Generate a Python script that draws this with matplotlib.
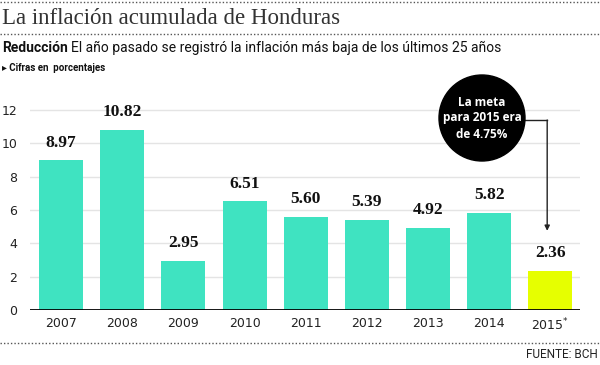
import matplotlib
matplotlib.use("Agg")
import matplotlib.pyplot as plt
from matplotlib.patches import Ellipse
from matplotlib.lines import Line2D

years = ["2007", "2008", "2009", "2010", "2011", "2012", "2013", "2014", "2015$^{*}$"]
values = [8.97, 10.82, 2.95, 6.51, 5.60, 5.39, 4.92, 5.82, 2.36]
labels = ["8.97", "10.82", "2.95", "6.51", "5.60", "5.39", "4.92", "5.82", "2.36"]
yticks = [0, 2, 4, 6, 8, 10, 12]
goal_2015 = 4.75

teal = "#3FE3C1"
yellow = "#E6FF00"
colors = [teal] * 8 + [yellow]

fig = plt.figure(figsize=(6, 3.65), dpi=100)
ax = fig.add_axes([0.05, 0.1507, 0.917, 0.5708])

x = list(range(len(years)))
ax.bar(x, values, width=0.72, color=colors, zorder=2)
ax.set_xlim(-0.51, 8.49)
ax.set_ylim(0, 12.5)
ax.set_yticks(yticks)
ax.set_yticklabels([str(t) for t in yticks])
ax.set_xticks(x)
ax.set_xticklabels(years)
for s in ax.spines.values():
    s.set_visible(False)
ax.tick_params(axis="both", length=0, labelsize=9, colors="#222222")
ax.tick_params(axis="y", pad=9)
ax.tick_params(axis="x", pad=5)
for t in yticks[1:]:
    ax.axhline(t, color="#e4e4e4", lw=1, zorder=0)
ax.axhline(0, color="black", lw=2, zorder=3)

for xi, v, lab in zip(x, values, labels):
    ax.annotate(lab, (xi, v), xytext=(0, 7), textcoords="offset points",
                ha="center", va="bottom", fontsize=12.5, fontweight="bold",
                family="Liberation Serif", color="#111111")

# Callout circle
cx, cy = 482 / 600, 1 - 118 / 365
ell = Ellipse((cx, cy), 86 / 600, 86 / 365, transform=fig.transFigure,
              color="black", zorder=5)
fig.patches.append(ell)
fig.text(cx, cy, "La meta\npara 2015 era\nde 4.75%", ha="center",
         va="center", color="white", fontsize=8.5, fontweight="bold",
         family="Open Sans", linespacing=1.3, zorder=6)

# connector: from circle edge to above the 2015 bar, then down to the goal value
fig.canvas.draw()
inv = ax.transData.inverted()
edge_x, corner_y = inv.transform((523, 365 - 120))
arrow_x = 7.95
ax.plot([edge_x, arrow_x], [corner_y, corner_y], color="#222222", lw=1, clip_on=False)
ax.annotate("", xy=(arrow_x, goal_2015), xytext=(arrow_x, corner_y),
            arrowprops=dict(arrowstyle="-|>,head_length=0.3,head_width=0.15",
                            color="#222222", lw=1, shrinkA=0, shrinkB=0),
            annotation_clip=False)

# dotted separators
for yy in [2, 34, 343]:
    fig.lines.append(Line2D([0, 1], [1 - yy / 365, 1 - yy / 365], transform=fig.transFigure,
                            color="#555555", lw=1, linestyle=(0, (1, 1.5))))

fig.text(0.003, 1 - 18 / 365, "La inflación acumulada de Honduras", ha="left", va="center",
         fontsize=16.5, family="Liberation Serif", color="#333333")
t1 = fig.text(0.003, 1 - 48 / 365, "Reducción", ha="left", va="center", fontsize=10,
              fontweight="bold", family="Roboto", color="#111111")
fig.canvas.draw()
bb = t1.get_window_extent()
fig.text(bb.x1 / 600 + 0.006, 1 - 48 / 365,
         "El año pasado se registró la inflación más baja de los últimos 25 años",
         ha="left", va="center", fontsize=10, family="Roboto", color="#111111")
fig.text(0.003, 1 - 68 / 365, "▸ Cifras en  porcentajes", ha="left", va="center", fontsize=7,
         fontweight="bold", family=["Roboto", "DejaVu Sans"], color="#111111")
fig.text(0.997, 1 - 355 / 365, "FUENTE: BCH", ha="right", va="center", fontsize=8.5,
         family="Roboto", color="#222222")

fig.savefig("out.png", dpi=100)
